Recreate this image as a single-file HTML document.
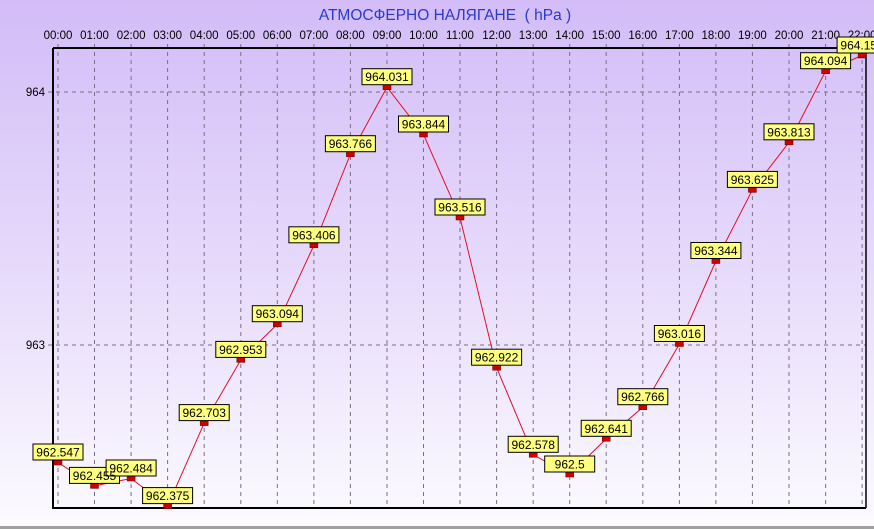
<!DOCTYPE html>
<html><head><meta charset="utf-8"><style>
html,body{margin:0;padding:0;width:874px;height:529px;overflow:hidden}
svg{display:block}
text{font-family:"Liberation Sans",Arial,sans-serif}
</style></head><body>
<svg width="874" height="529" xmlns="http://www.w3.org/2000/svg">
<defs>
<linearGradient id="bg" x1="0" y1="0" x2="0" y2="1">
<stop offset="0" stop-color="#d3bcf8"/>
<stop offset="0.5" stop-color="#e6dafb"/>
<stop offset="1" stop-color="#fcfbff"/>
</linearGradient>
</defs>
<rect width="874" height="529" fill="url(#bg)"/>
<rect x="0" y="526" width="874" height="3" fill="#a0a0a0"/>
<text x="445" y="20" font-size="15.5" fill="#2a3ad0" text-anchor="middle">АТМОСФЕРНО НАЛЯГАНЕ &#160;( hPa )</text>
<g font-size="11.5" fill="#000" text-anchor="middle">
<text x="58" y="39">00:00</text><text x="94.5" y="39">01:00</text><text x="131.1" y="39">02:00</text><text x="167.6" y="39">03:00</text><text x="204.2" y="39">04:00</text><text x="240.8" y="39">05:00</text><text x="277.3" y="39">06:00</text><text x="313.9" y="39">07:00</text><text x="350.4" y="39">08:00</text><text x="387" y="39">09:00</text><text x="423.5" y="39">10:00</text><text x="460" y="39">11:00</text><text x="496.6" y="39">12:00</text><text x="533.2" y="39">13:00</text><text x="569.7" y="39">14:00</text><text x="606.2" y="39">15:00</text><text x="642.8" y="39">16:00</text><text x="679.4" y="39">17:00</text><text x="715.9" y="39">18:00</text><text x="752.4" y="39">19:00</text><text x="789" y="39">20:00</text><text x="825.6" y="39">21:00</text><text x="862.1" y="39">22:00</text>
</g>
<g font-size="11.5" text-anchor="end"><text x="45" y="96">964</text><text x="45" y="349">963</text></g>
<g stroke="#7a6e8a" stroke-width="1" stroke-dasharray="4,4" fill="none">
<path d="M58 44V508M94.5 44V508M131.1 44V508M167.6 44V508M204.2 44V508M240.8 44V508M277.3 44V508M313.9 44V508M350.4 44V508M387 44V508M423.5 44V508M460 44V508M496.6 44V508M533.2 44V508M569.7 44V508M606.2 44V508M642.8 44V508M679.4 44V508M715.9 44V508M752.4 44V508M789 44V508M825.6 44V508M862.1 44V508"/>
<path d="M48 92H866M48 345H866"/>
</g>
<path d="M53 48H866M53 48V508H866" stroke="#000" stroke-width="2" fill="none"/>
<path d="M866 48V508" stroke="#000" stroke-width="1.5"/>
<polyline fill="none" stroke="#e0102a" stroke-width="1" points="58,462.6 94.5,485.9 131.1,478.5 167.6,506.1 204.2,423.1 240.8,359.9 277.3,324.2 313.9,245.3 350.4,154.2 387,87.2 423.5,134.5 460,217.5 496.6,367.7 533.2,454.8 569.7,474.5 606.2,438.8 642.8,407.2 679.4,344 715.9,261 752.4,189.9 789,142.3 825.6,71.2 862.1,55.5"/>
<g fill="#d00000" stroke="#600" stroke-width="0.5">
<rect x="54" y="460" width="8" height="5"/><rect x="90.5" y="483.4" width="8" height="5"/><rect x="127.1" y="476" width="8" height="5"/><rect x="163.6" y="503.6" width="8" height="5"/><rect x="200.2" y="420.6" width="8" height="5"/><rect x="236.8" y="357.4" width="8" height="5"/><rect x="273.3" y="321.7" width="8" height="5"/><rect x="309.9" y="242.8" width="8" height="5"/><rect x="346.4" y="151.7" width="8" height="5"/><rect x="383" y="84.7" width="8" height="5"/><rect x="419.5" y="132" width="8" height="5"/><rect x="456" y="215" width="8" height="5"/><rect x="492.6" y="365.2" width="8" height="5"/><rect x="529.2" y="452.3" width="8" height="5"/><rect x="565.7" y="472" width="8" height="5"/><rect x="602.2" y="436.3" width="8" height="5"/><rect x="638.8" y="404.7" width="8" height="5"/><rect x="675.4" y="341.5" width="8" height="5"/><rect x="711.9" y="258.5" width="8" height="5"/><rect x="748.4" y="187.4" width="8" height="5"/><rect x="785" y="139.8" width="8" height="5"/><rect x="821.6" y="68.7" width="8" height="5"/><rect x="858.1" y="53" width="8" height="5"/>
</g>
<g fill="#ffff80" stroke="#000" stroke-width="1">
<rect x="33" y="444" width="50" height="16"/><rect x="69.5" y="467.4" width="50" height="16"/><rect x="106.1" y="460" width="50" height="16"/><rect x="142.6" y="487.6" width="50" height="16"/><rect x="179.2" y="404.6" width="50" height="16"/><rect x="215.8" y="341.4" width="50" height="16"/><rect x="252.3" y="305.7" width="50" height="16"/><rect x="288.9" y="226.8" width="50" height="16"/><rect x="325.4" y="135.7" width="50" height="16"/><rect x="362" y="68.7" width="50" height="16"/><rect x="398.5" y="116" width="50" height="16"/><rect x="435" y="199" width="50" height="16"/><rect x="471.6" y="349.2" width="50" height="16"/><rect x="508.2" y="436.3" width="50" height="16"/><rect x="544.7" y="456" width="50" height="16"/><rect x="581.2" y="420.3" width="50" height="16"/><rect x="617.8" y="388.7" width="50" height="16"/><rect x="654.4" y="325.5" width="50" height="16"/><rect x="690.9" y="242.5" width="50" height="16"/><rect x="727.4" y="171.4" width="50" height="16"/><rect x="764" y="123.8" width="50" height="16"/><rect x="800.6" y="52.7" width="50" height="16"/><rect x="837.1" y="37" width="50" height="16"/>
</g>
<g font-size="12" fill="#000" text-anchor="middle">
<text x="58" y="456.5">962.547</text><text x="94.5" y="479.9">962.455</text><text x="131.1" y="472.5">962.484</text><text x="167.6" y="500.1">962.375</text><text x="204.2" y="417.1">962.703</text><text x="240.8" y="353.9">962.953</text><text x="277.3" y="318.2">963.094</text><text x="313.9" y="239.3">963.406</text><text x="350.4" y="148.2">963.766</text><text x="387" y="81.2">964.031</text><text x="423.5" y="128.5">963.844</text><text x="460" y="211.5">963.516</text><text x="496.6" y="361.7">962.922</text><text x="533.2" y="448.8">962.578</text><text x="569.7" y="468.5">962.5</text><text x="606.2" y="432.8">962.641</text><text x="642.8" y="401.2">962.766</text><text x="679.4" y="338">963.016</text><text x="715.9" y="255">963.344</text><text x="752.4" y="183.9">963.625</text><text x="789" y="136.3">963.813</text><text x="825.6" y="65.2">964.094</text><text x="862.1" y="49.5">964.156</text>
</g>
</svg>
</body></html>
